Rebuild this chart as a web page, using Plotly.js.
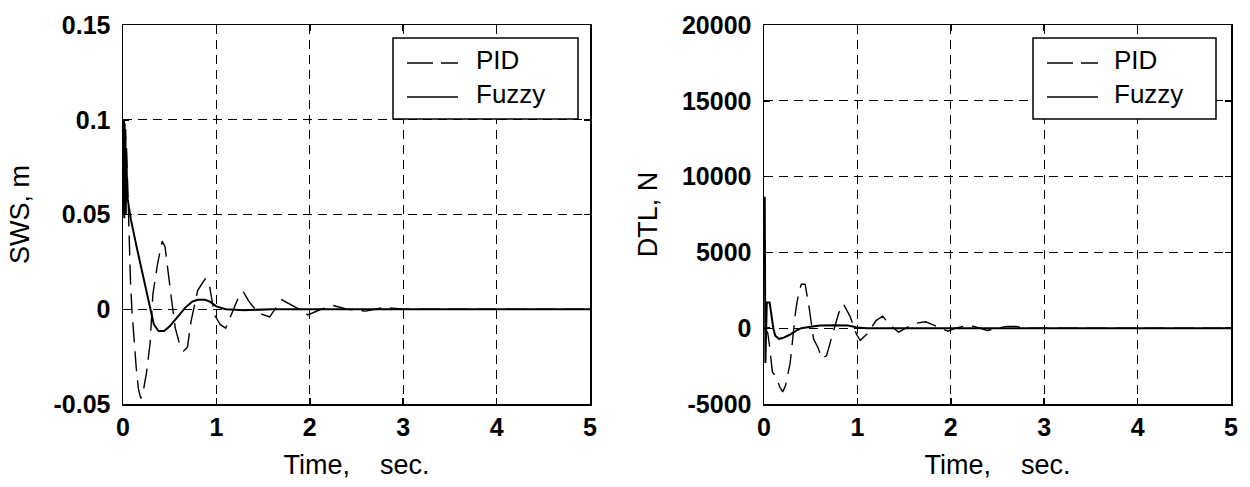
<!DOCTYPE html>
<html>
<head>
<meta charset="utf-8">
<script src="https://cdn.plot.ly/plotly-3.0.1.min.js"></script>
<style>html,body{margin:0;padding:0;background:#fff;}#chart{width:1250px;height:487px;}</style>
</head>
<body>
<div id="chart"></div>
<script>
// ---------- data ----------
// Left panel: SWS, m
var swsPidT = [0, 0.03, 0.05, 0.06, 0.07, 0.08, 0.095, 0.115, 0.14, 0.165, 0.19, 0.21, 0.25, 0.29, 0.32, 0.37, 0.42, 0.45, 0.48, 0.52, 0.56, 0.61, 0.65, 0.69, 0.73, 0.8, 0.88, 0.92, 0.98, 1.04, 1.1, 1.18, 1.25, 1.29, 1.35, 1.45, 1.57, 1.7, 1.85, 1.98, 2.12, 2.25, 2.4, 2.6, 2.8, 3.0, 3.3, 5];
var swsPidV = [0.1, 0.09, 0.066, 0.047, 0.03, 0.015, 0.0, -0.015, -0.03, -0.042, -0.047, -0.045, -0.034, -0.018, 0.008, 0.024, 0.036, 0.033, 0.02, 0.005, -0.01, -0.019, -0.022, -0.02, -0.006, 0.01, 0.016, 0.014, -0.003, -0.008, -0.01, 0.0, 0.008, 0.009, 0.004, -0.002, -0.004, 0.005, 0.001, -0.003, 0.0, 0.002, 0.0, -0.001, 0.001, 0.0, 0.0, 0.0];
var swsFuzT = [0, 0.005, 0.01, 0.014, 0.018, 0.022, 0.026, 0.03, 0.035, 0.045, 0.06, 0.086, 0.15, 0.22, 0.29, 0.33, 0.38, 0.44, 0.5, 0.58, 0.67, 0.74, 0.8, 0.88, 0.93, 1.0, 1.1, 1.3, 1.6, 2.0, 5];
var swsFuzV = [0.1, 0.05, 0.1, 0.048, 0.098, 0.05, 0.095, 0.05, 0.085, 0.06, 0.055, 0.047, 0.032, 0.016, 0.0, -0.008, -0.0115, -0.0115, -0.009, -0.004, 0.001, 0.004, 0.005, 0.005, 0.004, 0.0015, 0.0, -0.0005, 0.0, 0.0, 0.0];

// Right panel: DTL, N
var dtlPidT = [0, 0.04, 0.06, 0.09, 0.13, 0.17, 0.2, 0.23, 0.28, 0.31, 0.34, 0.37, 0.4, 0.44, 0.48, 0.53, 0.58, 0.62, 0.67, 0.72, 0.8, 0.85, 0.92, 0.99, 1.03, 1.1, 1.2, 1.27, 1.35, 1.44, 1.55, 1.65, 1.73, 1.8, 1.9, 1.97, 2.05, 2.15, 2.25, 2.32, 2.39, 2.5, 2.6, 2.7, 2.8, 3.0, 5];
var dtlPidV = [0, -300, -1200, -2900, -3200, -3900, -4200, -3800, -2300, -500, 1200, 2300, 2900, 2900, 1500, -700, -1300, -2000, -1800, -700, 1000, 1600, 800, -400, -800, -400, 500, 800, 200, -260, 100, 350, 420, 250, 0, -200, 0, 150, 120, 0, -150, 0, 120, 120, 0, 0, 0];
var dtlFuzT = [0, 0.008, 0.015, 0.03, 0.06, 0.08, 0.1, 0.12, 0.16, 0.2, 0.27, 0.35, 0.4, 0.5, 0.6, 0.75, 0.9, 1.0, 1.1, 1.5, 5];
var dtlFuzV = [8600, 8600, -2300, 1700, 1700, 800, 0, -500, -700, -650, -450, -150, 0, 100, 180, 200, 180, 50, 0, 0, 0];

var xTicks = [0, 1, 2, 3, 4, 5];
var xTickText = ['0', '1', '2', '3', '4', '5'];
var swsTicks = [-0.05, 0, 0.05, 0.1, 0.15];
var swsTickText = ['-0.05', '0', '0.05', '0.1', '0.15'];
var dtlTicks = [-5000, 0, 5000, 10000, 15000, 20000];
var dtlTickText = ['-5000', '0', '5000', '10000', '15000', '20000'];
var seriesNames = ['PID', 'Fuzzy'];

// ---------- styling ----------
var W = 1250, H = 487;
var M = {l: 123, r: 19, t: 25, b: 83};
var plotW = W - M.l - M.r, plotH = H - M.t - M.b;
function px(x) { return (x - M.l) / plotW; }
function py(y) { return (M.t + plotH - y) / plotH; }

var pidDash = '20px,9px';
var tickFont = {family: 'Arial, Liberation Sans, sans-serif', size: 25, color: '#000', weight: 'bold'};
var titleFont = {family: 'Arial, Liberation Sans, sans-serif', size: 27, color: '#000'};
var legFont = {family: 'Arial, Liberation Sans, sans-serif', size: 26, color: '#000'};

function xAxis(domain, anchor) {
  return {
    domain: domain, anchor: anchor, range: [0, 5], tickvals: xTicks, ticktext: xTickText,
    ticks: 'inside', ticklen: 6, tickwidth: 1.5, tickcolor: '#000',
    showline: true, linecolor: '#000', linewidth: 1.5, mirror: 'ticks',
    showgrid: true, gridcolor: '#000', gridwidth: 1.3, griddash: '9px,6px',
    zeroline: false, tickfont: tickFont, ticklabelstandoff: 0,
    title: {text: 'Time,\u00a0\u00a0\u00a0\u00a0sec.', font: titleFont, standoff: 15}
  };
}
function yAxis(range, tv, tt, title, anchor) {
  return {
    anchor: anchor, domain: [0, 1], range: range, tickvals: tv, ticktext: tt,
    ticks: 'inside', ticklen: 6, tickwidth: 1.5, tickcolor: '#000',
    showline: true, linecolor: '#000', linewidth: 1.5, mirror: 'ticks',
    showgrid: true, gridcolor: '#000', gridwidth: 1.3, griddash: '9px,6px',
    zeroline: false, tickfont: tickFont, ticklabelstandoff: 6,
    title: {text: title, font: titleFont, standoff: 16}
  };
}

var traces = [
  {x: swsPidT, y: swsPidV, xaxis: 'x', yaxis: 'y', mode: 'lines', name: seriesNames[0], showlegend: false,
   line: {color: '#000', width: 1.4, dash: pidDash}},
  {x: swsFuzT, y: swsFuzV, xaxis: 'x', yaxis: 'y', mode: 'lines', name: seriesNames[1], showlegend: false,
   line: {color: '#000', width: 2}},
  {x: dtlPidT, y: dtlPidV, xaxis: 'x2', yaxis: 'y2', mode: 'lines', name: seriesNames[0], showlegend: false,
   line: {color: '#000', width: 1.4, dash: pidDash}},
  {x: dtlFuzT, y: dtlFuzV, xaxis: 'x2', yaxis: 'y2', mode: 'lines', name: seriesNames[1], showlegend: false,
   line: {color: '#000', width: 2}}
];

// hand-built MATLAB-style legends
var shapes = [], annotations = [];
function addLegend(bx0, bx1, lx0, lx1, tx) {
  shapes.push({type: 'rect', xref: 'paper', yref: 'paper', layer: 'above',
    x0: px(bx0), x1: px(bx1), y0: py(119), y1: py(38),
    line: {color: '#000', width: 1.5}, fillcolor: '#fff'});
  shapes.push({type: 'line', xref: 'paper', yref: 'paper', layer: 'above',
    x0: px(lx0), x1: px(lx1), y0: py(63), y1: py(63),
    line: {color: '#000', width: 1.5, dash: '26px,8px'}});
  shapes.push({type: 'line', xref: 'paper', yref: 'paper', layer: 'above',
    x0: px(lx0), x1: px(lx1), y0: py(97), y1: py(97),
    line: {color: '#000', width: 1.5}});
  annotations.push({xref: 'paper', yref: 'paper', x: px(tx), y: py(60), xanchor: 'left', yanchor: 'middle',
    text: seriesNames[0], showarrow: false, font: legFont});
  annotations.push({xref: 'paper', yref: 'paper', x: px(tx), y: py(94), xanchor: 'left', yanchor: 'middle',
    text: seriesNames[1], showarrow: false, font: legFont});
}
addLegend(393, 578, 407, 458, 474);
addLegend(1033, 1216, 1047, 1098, 1112);

var layout = {
  width: W, height: H, margin: M,
  paper_bgcolor: '#fff', plot_bgcolor: '#fff', showlegend: false,
  xaxis: xAxis([0, px(590)], 'y'),
  yaxis: yAxis([-0.05, 0.15], swsTicks, swsTickText, 'SWS, m', 'x'),
  xaxis2: xAxis([px(764), 1], 'y2'),
  yaxis2: yAxis([-5000, 20000], dtlTicks, dtlTickText, 'DTL, N', 'x2'),
  shapes: shapes, annotations: annotations
};

Plotly.newPlot('chart', traces, layout, {displayModeBar: false, staticPlot: true});
</script>
</body>
</html>
